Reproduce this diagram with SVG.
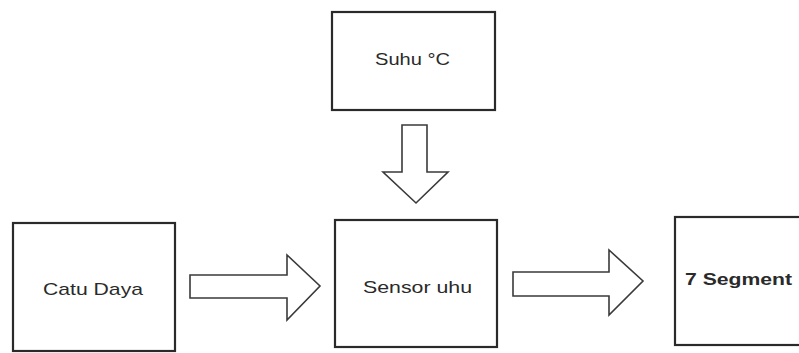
<svg xmlns="http://www.w3.org/2000/svg" width="799" height="353" viewBox="0 0 799 353">
<style>
.box{fill:#fff;stroke:#2a2a2a;stroke-width:2.2}
.arr{fill:#fff;stroke:#3a3a3a;stroke-width:1.6;stroke-linejoin:miter}
.t{font-family:"Liberation Sans",Arial,sans-serif;font-size:17px;fill:#2a2a2a}
</style>
<rect width="799" height="353" fill="#fff"/>
<g id="suhu">
<rect class="box" x="332" y="12" width="163" height="98"/>
<text class="t" x="375" y="65" textLength="75" lengthAdjust="spacingAndGlyphs">Suhu °C</text>
</g>
<g id="catu-daya">
<rect class="box" x="13" y="223" width="162" height="128"/>
<text class="t" x="43" y="295" textLength="100" lengthAdjust="spacingAndGlyphs">Catu Daya</text>
</g>
<g id="sensor">
<rect class="box" x="335" y="220" width="162" height="127"/>
<text class="t" x="363" y="293" textLength="109" lengthAdjust="spacingAndGlyphs">Sensor uhu</text>
</g>
<g id="segment">
<rect class="box" x="675" y="217" width="140" height="128"/>
<text class="t" x="685" y="285" textLength="107" lengthAdjust="spacingAndGlyphs" font-weight="bold">7 Segment</text>
</g>
<g id="connectors">
<polygon class="arr" points="402,125 427,125 427,172 448,172 416,203 383,172 402,172"/>
<polygon class="arr" points="190,275 287,275 287,255 320,286 287,320 287,298 190,298"/>
<polygon class="arr" points="513,272 609,272 609,250 643,281 609,315 609,296 513,296"/>
</g>
</svg>
